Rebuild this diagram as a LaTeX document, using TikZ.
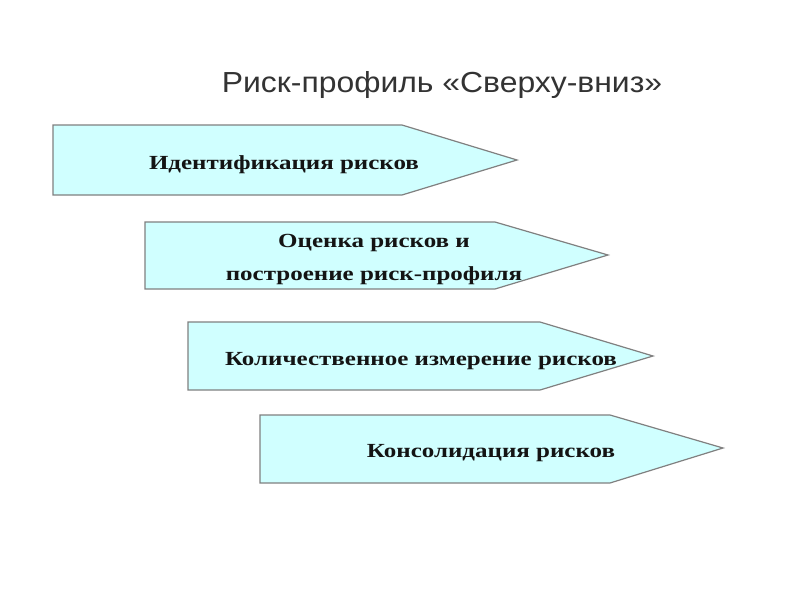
\documentclass[tikz,border=0pt]{standalone}
\usepackage{fontspec}
\setmainfont{Liberation Serif}
\newfontfamily\titlefont{Liberation Sans}
\definecolor{boxfill}{RGB}{208,255,255}
\definecolor{boxedge}{RGB}{128,128,128}
\newcommand{\wide}[2]{\scalebox{#1}[1]{#2}}
\begin{document}
\begin{tikzpicture}[x=1pt,y=-1pt,
  arrowbox/.style={draw=boxedge, line width=1.2pt, fill=boxfill, line join=miter},
  lbl/.style={font=\bfseries\fontsize{20}{24}\selectfont, inner sep=0pt, anchor=base, text=black!92},
  ttl/.style={font=\titlefont\fontsize{29}{34}\selectfont, inner sep=0pt, anchor=base, text=black!80}]
\useasboundingbox (0,0) rectangle (800,600);
\fill[white] (0,0) rectangle (800,600);
\node[ttl] (title) at (442,92) {\wide{1.1}{Риск-профиль «Сверху-вниз»}};
% shape 1
\draw[arrowbox] (53,125) -- (402,125) -- (517,160) -- (402,195) -- (53,195) -- cycle;
\node[lbl] (s1) at (284,169) {\wide{1.25}{Идентификация рисков}};
% shape 2
\draw[arrowbox] (145,222) -- (495,222) -- (608,255) -- (495,289) -- (145,289) -- cycle;
\node[lbl] (s2) at (374,280) {\wide{1.25}{\begin{tabular}[b]{@{}c@{}}Оценка рисков и\\[9pt]построение риск-профиля\end{tabular}}};
% shape 3
\draw[arrowbox] (188,322) -- (540,322) -- (653,356) -- (540,390) -- (188,390) -- cycle;
\node[lbl] (s3) at (421,365) {\wide{1.25}{Количественное измерение рисков}};
% shape 4
\draw[arrowbox] (260,415) -- (610,415) -- (723,448) -- (610,483) -- (260,483) -- cycle;
\node[lbl] (s4) at (491,457) {\wide{1.25}{Консолидация рисков}};
\end{tikzpicture}
\end{document}
